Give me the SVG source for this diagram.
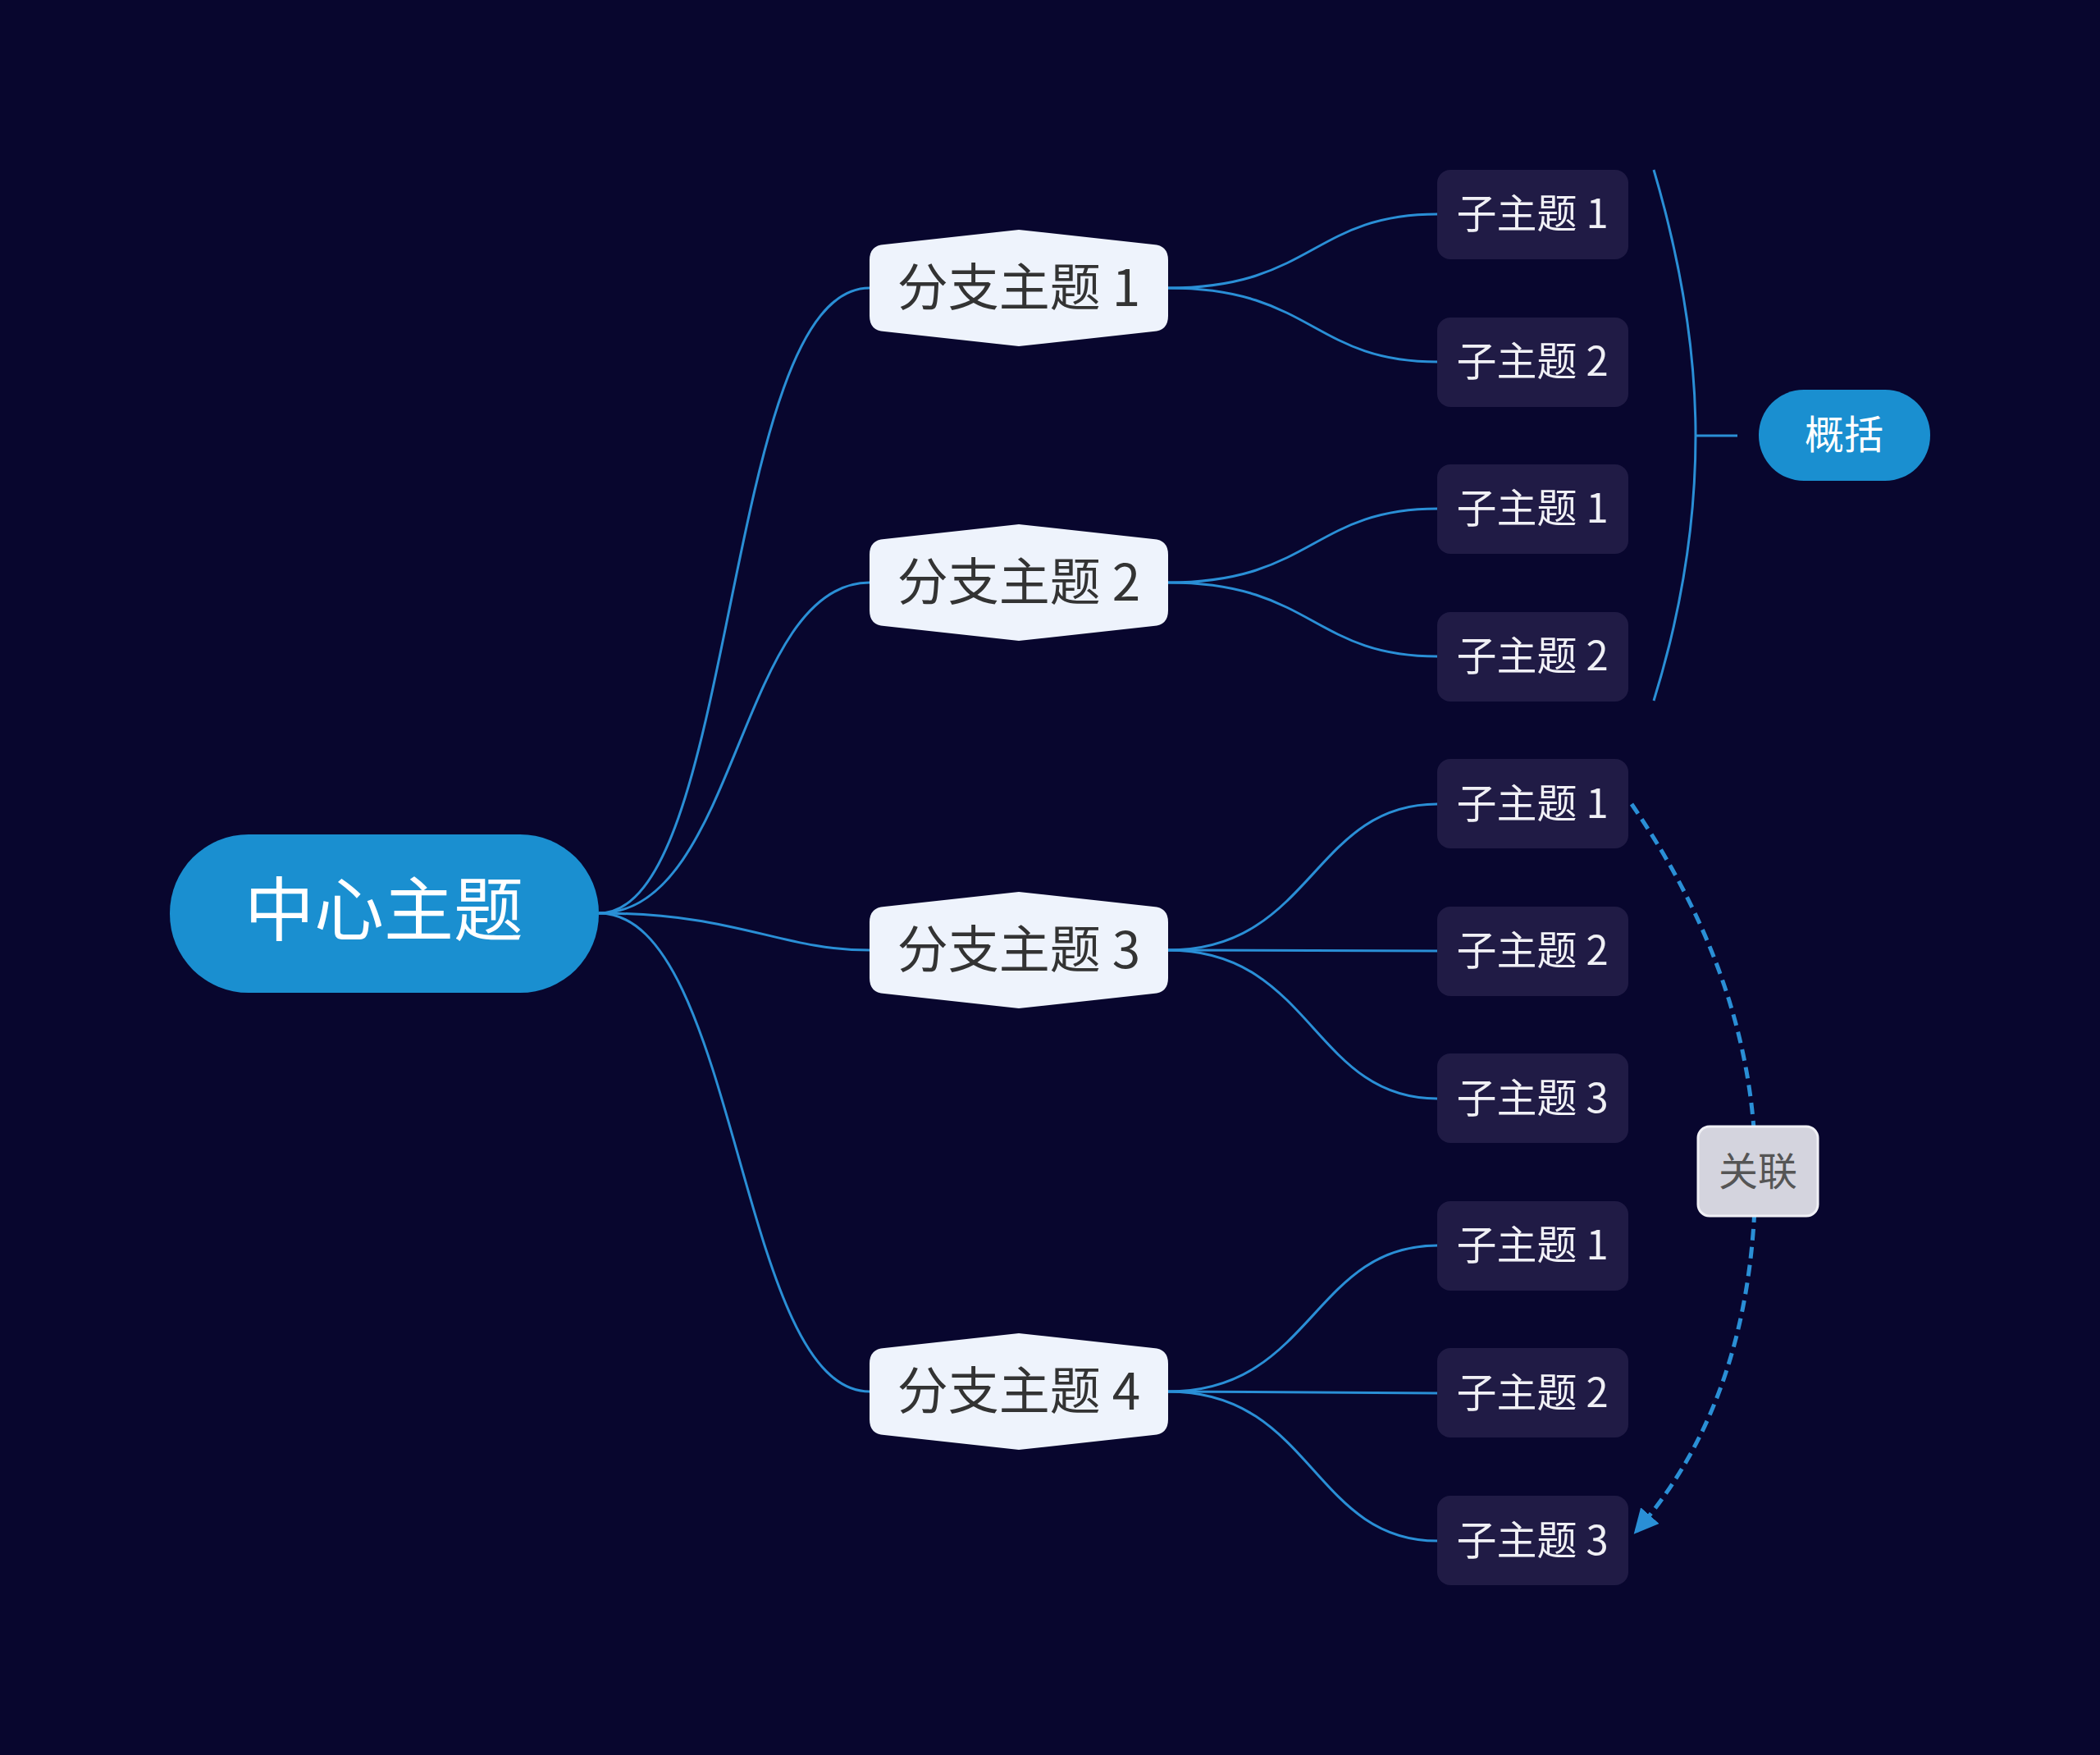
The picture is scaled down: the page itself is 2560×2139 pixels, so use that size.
<svg xmlns="http://www.w3.org/2000/svg" width="2560" height="2139" viewBox="0 0 2560 2139">
<defs>
<style>
.l{fill:none;stroke:#2a8fd6;stroke-width:3}
.d{fill:none;stroke:#2a8fd6;stroke-width:5;stroke-dasharray:14,8}
.b{fill:#eef3fc}
.bt{font-family:"Noto Sans CJK SC","Noto Sans",sans-serif;font-size:62px;fill:#333}
.s{fill:#201b45}
.st{font-family:"Noto Sans CJK SC","Noto Sans",sans-serif;font-size:49px;fill:#f0f0f5}
</style>
<marker id="ar" markerWidth="6" markerHeight="6" refX="5" refY="3" orient="auto" markerUnits="strokeWidth"><path d="M0,0 L6,3 L0,6 z" fill="#2a8fd6"/></marker>
<path id="hex" d="M-182,-34 Q-182,-52 -164,-53 L0,-71 L164,-53 Q182,-52 182,-34 L182,34 Q182,52 164,53 L0,71 L-164,53 Q-182,52 -182,34 Z"/>
</defs>
<rect width="2560" height="2139" fill="#08062e"/>
<g id="connectors">
<path class="l" d="M730,1113 C900,1113 880,351 1060,351"/>
<path class="l" d="M730,1113 C900,1113 900,710 1060,710"/>
<path class="l" d="M730,1113 C900,1113 950,1158 1060,1158"/>
<path class="l" d="M730,1113 C900,1113 900,1696 1060,1696"/>
<path class="l" d="M1424,351 C1600,351 1600,261 1752,261"/>
<path class="l" d="M1424,351 C1600,351 1600,441 1752,441"/>
<path class="l" d="M1424,710 C1600,710 1600,620 1752,620"/>
<path class="l" d="M1424,710 C1600,710 1600,800 1752,800"/>
<path class="l" d="M1424,1158 C1600,1158 1600,980 1752,980"/>
<path class="l" d="M1424,1158 L1752,1159"/>
<path class="l" d="M1424,1158 C1600,1158 1600,1339 1752,1339"/>
<path class="l" d="M1424,1696 C1600,1696 1600,1518 1752,1518"/>
<path class="l" d="M1424,1696 L1752,1698"/>
<path class="l" d="M1424,1696 C1600,1696 1600,1878 1752,1878"/>
<path class="l" d="M2016,207 Q2067,380 2067,531 Q2067,690 2016,854 M2067,531 L2118,531"/>
<path class="d" marker-end="url(#ar)" d="M1989,980 Q2140,1200 2140,1428 Q2140,1700 1995,1866"/>
</g>
<g id="center"><rect x="207" y="1017" width="523" height="193" rx="96" fill="#1a8fd0"/><text x="468" y="1140" text-anchor="middle" font-family="Noto Sans CJK SC,sans-serif" font-size="85" fill="#fff">中心主题</text></g>
<g id="b1"><use href="#hex" x="1242" y="351" class="b"/><text class="bt" x="1242" y="373" text-anchor="middle">分支主题 1</text></g>
<g id="b2"><use href="#hex" x="1242" y="710" class="b"/><text class="bt" x="1242" y="732" text-anchor="middle">分支主题 2</text></g>
<g id="b3"><use href="#hex" x="1242" y="1158" class="b"/><text class="bt" x="1242" y="1180" text-anchor="middle">分支主题 3</text></g>
<g id="b4"><use href="#hex" x="1242" y="1696" class="b"/><text class="bt" x="1242" y="1718" text-anchor="middle">分支主题 4</text></g>
<g id="s1"><rect class="s" x="1752" y="207" width="233" height="109" rx="16"/><text class="st" x="1868" y="278" text-anchor="middle">子主题 1</text></g>
<g id="s2"><rect class="s" x="1752" y="387" width="233" height="109" rx="16"/><text class="st" x="1868" y="458" text-anchor="middle">子主题 2</text></g>
<g id="s3"><rect class="s" x="1752" y="566" width="233" height="109" rx="16"/><text class="st" x="1868" y="637" text-anchor="middle">子主题 1</text></g>
<g id="s4"><rect class="s" x="1752" y="746" width="233" height="109" rx="16"/><text class="st" x="1868" y="817" text-anchor="middle">子主题 2</text></g>
<g id="s5"><rect class="s" x="1752" y="925" width="233" height="109" rx="16"/><text class="st" x="1868" y="997" text-anchor="middle">子主题 1</text></g>
<g id="s6"><rect class="s" x="1752" y="1105" width="233" height="109" rx="16"/><text class="st" x="1868" y="1176" text-anchor="middle">子主题 2</text></g>
<g id="s7"><rect class="s" x="1752" y="1284" width="233" height="109" rx="16"/><text class="st" x="1868" y="1356" text-anchor="middle">子主题 3</text></g>
<g id="s8"><rect class="s" x="1752" y="1464" width="233" height="109" rx="16"/><text class="st" x="1868" y="1535" text-anchor="middle">子主题 1</text></g>
<g id="s9"><rect class="s" x="1752" y="1643" width="233" height="109" rx="16"/><text class="st" x="1868" y="1715" text-anchor="middle">子主题 2</text></g>
<g id="s10"><rect class="s" x="1752" y="1823" width="233" height="109" rx="16"/><text class="st" x="1868" y="1895" text-anchor="middle">子主题 3</text></g>
<g id="summary"><rect x="2144" y="475" width="209" height="111" rx="55" fill="#1a8fd0"/><text x="2248" y="547" text-anchor="middle" font-family="Noto Sans CJK SC,sans-serif" font-size="48" fill="#fff">概括</text></g>
<g id="rel"><rect x="2070" y="1373" width="146" height="109" rx="14" fill="#d4d4de" stroke="#f0f0f5" stroke-width="3"/><text x="2143" y="1445" text-anchor="middle" font-family="Noto Sans CJK SC,sans-serif" font-size="48" fill="#555">关联</text></g>
</svg>
